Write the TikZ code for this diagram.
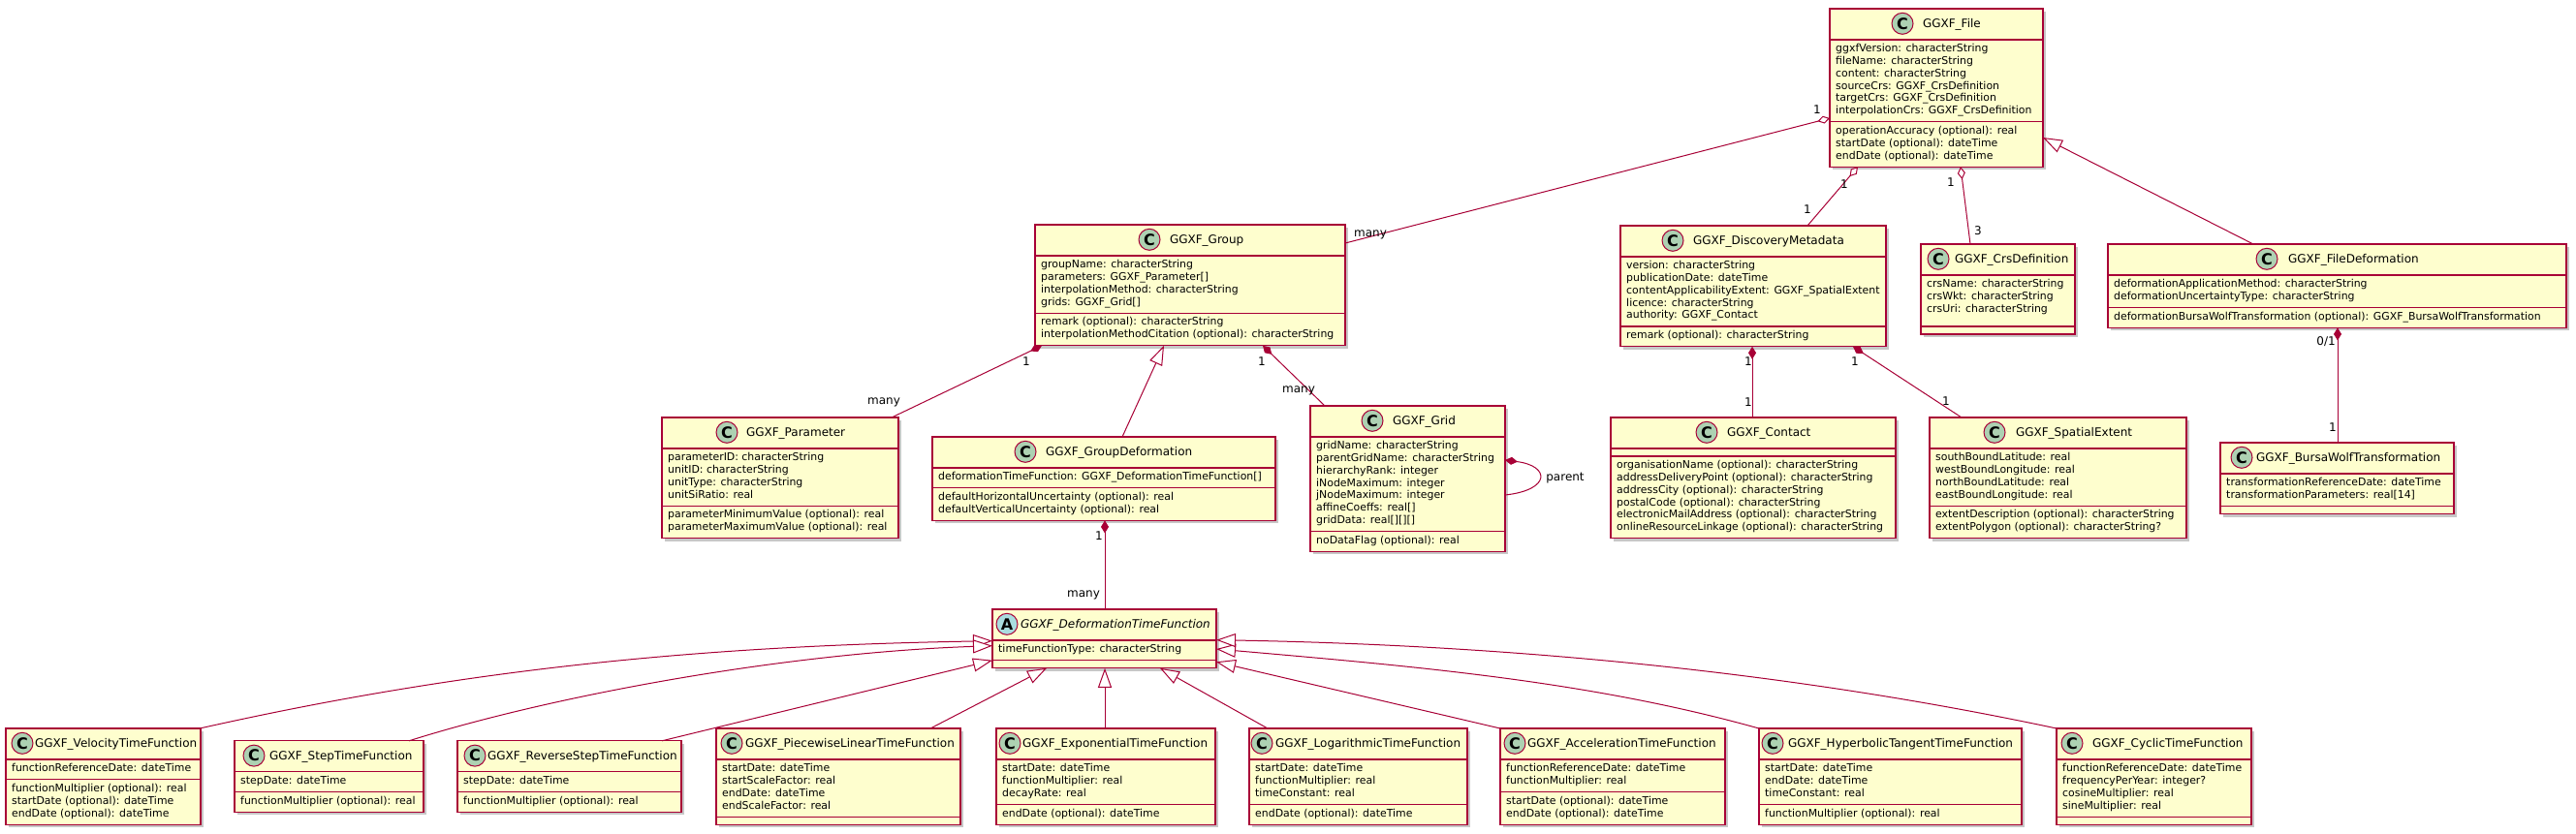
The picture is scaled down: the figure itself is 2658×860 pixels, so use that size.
\documentclass[tikz,border=0pt]{standalone}
\usepackage{fontspec}
\setmainfont{DejaVu Sans}
\usetikzlibrary{arrows.meta,shadows}
\definecolor{umlred}{HTML}{A80036}
\definecolor{umlfill}{HTML}{FEFECE}
\definecolor{iconC}{HTML}{ADD1B2}
\definecolor{iconA}{HTML}{A9DCDF}
\newcommand\memfont{\fontsize{10.9}{12.8}\selectfont}
\newcommand\namefont{\fontsize{12}{14}\selectfont}
\newcommand\lblfont{\fontsize{12}{14}\selectfont}
\newcommand\iconfont{\fontsize{16}{16}\selectfont\bfseries}
\tikzset{
 classbox/.style={draw=umlred, fill=umlfill, line width=1.2pt, inner sep=0pt, outer sep=0pt,
   drop shadow={shadow xshift=3pt, shadow yshift=-3pt, opacity=0.22, fill=black}},
 sepline/.style={draw=umlred, line width=1.2pt},
 mem/.style={inner sep=0pt, outer sep=0pt, font=\memfont, anchor=base west},
 clsname/.style={inner sep=0pt, outer sep=0pt, font=\namefont, anchor=base west},
 iconc/.style={circle, draw=umlred, line width=1pt, minimum size=22pt, inner sep=0pt, font=\iconfont},
 lbl/.style={inner sep=0pt, font=\lblfont},
 link/.style={draw=umlred, line width=1pt},
 comp/.style={link, {Diamond[length=13pt, width=8pt]}-},
 aggr/.style={link, {Diamond[open, length=13pt, width=8pt, fill=white]}-},
 gen/.style={link, {Triangle[open, length=20pt, width=14pt, fill=white]}-},
}
\newcommand\clsbox[6]{%
 \pgfmathsetmacro\hs{#4+32}%
 \pgfmathsetmacro\as{\hs+8+12.8*#5}%
 \pgfmathsetmacro\bt{\as+8+12.8*#6}%
 \pgfmathsetmacro\bw{#3-#2}%
 \pgfmathsetmacro\bh{\bt-#4}%
 \node[classbox, minimum width=\bw pt, minimum height=\bh pt, anchor=north west] (#1) at (#2,#4) {};%
 \draw[sepline] (#2,\hs) -- (#3,\hs);%
 \draw[sepline] (#2,\as) -- (#3,\as);%
}
\newcommand\clshead[7]{%
 \node[iconc, fill=#7] (#1-icon) at (#3, {#2+15.3}) {#6};%
 \node[clsname] (#1-name) at (#4, {#2+19.5}) {#5};%
}
\newcommand\mems[4]{%
 \foreach \l [count=\k from 0] in {#4} {%
   \node[mem] (#1-\k) at ({#2+6.2}, {#3+12.7+12.8*\k}) {\l};%
 }}
\begin{document}
\begin{tikzpicture}[x=1pt, y=-1pt]
\useasboundingbox (0,0) rectangle (2658,860);
\fill[white] (0,0) rectangle (2658,860);

% GGXF_File
\clsbox{file}{1888}{2108}{9}{6}{3}
\clshead{file}{9}{1963}{1984}{GGXF\_File}{C}{iconC}
\mems{filea}{1888}{\hs}{{ggxfVersion: characterString},{fileName: characterString},{content: characterString},{sourceCrs: GGXF\_CrsDefinition},{targetCrs: GGXF\_CrsDefinition},{interpolationCrs: GGXF\_CrsDefinition}}
\mems{fileo}{1888}{\as}{{operationAccuracy (optional): real},{startDate (optional): dateTime},{endDate (optional): dateTime}}

% GGXF_Group
\clsbox{group}{1068}{1388}{232}{4}{2}
\clshead{group}{232}{1186}{1207}{GGXF\_Group}{C}{iconC}
\mems{groupa}{1068}{\hs}{{groupName: characterString},{parameters: GGXF\_Parameter[]},{interpolationMethod: characterString},{grids: GGXF\_Grid[]}}
\mems{groupo}{1068}{\as}{{remark (optional): characterString},{interpolationMethodCitation (optional): characterString}}

% GGXF_Parameter
\clsbox{param}{683}{927}{431}{4}{2}
\clshead{param}{431}{750}{770}{GGXF\_Parameter}{C}{iconC}
\mems{parama}{683}{\hs}{{parameterID: characterString},{unitID: characterString},{unitType: characterString},{unitSiRatio: real}}
\mems{paramo}{683}{\as}{{parameterMinimumValue (optional): real},{parameterMaximumValue (optional): real}}

% GGXF_GroupDeformation
\clsbox{gdef}{962}{1316}{451}{1}{2}
\clshead{gdef}{451}{1058}{1079}{GGXF\_GroupDeformation}{C}{iconC}
\mems{gdefa}{962}{\hs}{{deformationTimeFunction: GGXF\_DeformationTimeFunction[]}}
\mems{gdefo}{962}{\as}{{defaultHorizontalUncertainty (optional): real},{defaultVerticalUncertainty (optional): real}}

% GGXF_Grid
\clsbox{grid}{1352}{1553}{419}{7}{1}
\clshead{grid}{419}{1416}{1437}{GGXF\_Grid}{C}{iconC}
\mems{grida}{1352}{\hs}{{gridName: characterString},{parentGridName: characterString},{hierarchyRank: integer},{iNodeMaximum: integer},{jNodeMaximum: integer},{affineCoeffs: real[]},{gridData: real[][][]}}
\mems{grido}{1352}{\as}{{noDataFlag (optional): real}}

% GGXF_DiscoveryMetadata
\clsbox{disc}{1672}{1946}{233}{5}{1}
\clshead{disc}{233}{1726}{1747}{GGXF\_DiscoveryMetadata}{C}{iconC}
\mems{disca}{1672}{\hs}{{version: characterString},{publicationDate: dateTime},{contentApplicabilityExtent: GGXF\_SpatialExtent},{licence: characterString},{authority: GGXF\_Contact}}
\mems{disco}{1672}{\as}{{remark (optional): characterString}}

% GGXF_CrsDefinition
\clsbox{crs}{1982}{2141}{252}{3.52}{0}
\clshead{crs}{252}{2000}{2017}{GGXF\_CrsDefinition}{C}{iconC}
\mems{crsa}{1982}{\hs}{{crsName: characterString},{crsWkt: characterString},{crsUri: characterString}}

% GGXF_FileDeformation
\clsbox{fdef}{2175}{2648}{252}{2}{1}
\clshead{fdef}{252}{2339}{2361}{GGXF\_FileDeformation}{C}{iconC}
\mems{fdefa}{2175}{\hs}{{deformationApplicationMethod: characterString},{deformationUncertaintyType: characterString}}
\mems{fdefo}{2175}{\as}{{deformationBursaWolfTransformation (optional): GGXF\_BursaWolfTransformation}}

% GGXF_BursaWolfTransformation
\clsbox{bursa}{2291}{2532}{457}{2}{0}
\clshead{bursa}{457}{2313}{2328}{GGXF\_BursaWolfTransformation}{C}{iconC}
\mems{bursaa}{2291}{\hs}{{transformationReferenceDate: dateTime},{transformationParameters: real[14]}}

% GGXF_Contact
\clsbox{contact}{1662}{1956}{431}{0}{6}
\clshead{contact}{431}{1761}{1782}{GGXF\_Contact}{C}{iconC}
\mems{contacto}{1662}{\as}{{organisationName (optional): characterString},{addressDeliveryPoint (optional): characterString},{addressCity (optional): characterString},{postalCode (optional): characterString},{electronicMailAddress (optional): characterString},{onlineResourceLinkage (optional): characterString}}

% GGXF_SpatialExtent
\clsbox{spatial}{1991}{2256}{431}{4}{2}
\clshead{spatial}{431}{2058}{2080}{GGXF\_SpatialExtent}{C}{iconC}
\mems{spatiala}{1991}{\hs}{{southBoundLatitude: real},{westBoundLongitude: real},{northBoundLatitude: real},{eastBoundLongitude: real}}
\mems{spatialo}{1991}{\as}{{extentDescription (optional): characterString},{extentPolygon (optional): characterString?}}

% GGXF_DeformationTimeFunction
\clsbox{dtf}{1024}{1255}{629}{1}{0}
\clshead{dtf}{629}{1039}{1053}{\itshape GGXF\_DeformationTimeFunction}{A}{iconA}
\mems{dtfa}{1024}{\hs}{{timeFunctionType: characterString}}

% bottom row
\clsbox{vel}{6}{207}{752}{1}{3}
\clshead{vel}{752}{23}{36}{GGXF\_VelocityTimeFunction}{C}{iconC}
\mems{vela}{6}{\hs}{{functionReferenceDate: dateTime}}
\mems{velo}{6}{\as}{{functionMultiplier (optional): real},{startDate (optional): dateTime},{endDate (optional): dateTime}}

\clsbox{step}{242}{437}{764.8}{1}{1}
\clshead{step}{764.8}{262}{278}{GGXF\_StepTimeFunction}{C}{iconC}
\mems{stepa}{242}{\hs}{{stepDate: dateTime}}
\mems{stepo}{242}{\as}{{functionMultiplier (optional): real}}

\clsbox{rstep}{472}{703}{764.8}{1}{1}
\clshead{rstep}{764.8}{490}{503}{GGXF\_ReverseStepTimeFunction}{C}{iconC}
\mems{rstepa}{472}{\hs}{{stepDate: dateTime}}
\mems{rstepo}{472}{\as}{{functionMultiplier (optional): real}}

\clsbox{pw}{739}{991}{752}{4}{0}
\clshead{pw}{752}{755}{769}{GGXF\_PiecewiseLinearTimeFunction}{C}{iconC}
\mems{pwa}{739}{\hs}{{startDate: dateTime},{startScaleFactor: real},{endDate: dateTime},{endScaleFactor: real}}

\clsbox{expo}{1028}{1254}{752}{3}{1}
\clshead{expo}{752}{1042}{1055}{GGXF\_ExponentialTimeFunction}{C}{iconC}
\mems{expoa}{1028}{\hs}{{startDate: dateTime},{functionMultiplier: real},{decayRate: real}}
\mems{expoo}{1028}{\as}{{endDate (optional): dateTime}}

\clsbox{loga}{1289}{1514}{752}{3}{1}
\clshead{loga}{752}{1302}{1316}{GGXF\_LogarithmicTimeFunction}{C}{iconC}
\mems{logaa}{1289}{\hs}{{startDate: dateTime},{functionMultiplier: real},{timeConstant: real}}
\mems{logao}{1289}{\as}{{endDate (optional): dateTime}}

\clsbox{acc}{1548}{1780}{752}{2}{2}
\clshead{acc}{752}{1563}{1576}{GGXF\_AccelerationTimeFunction}{C}{iconC}
\mems{acca}{1548}{\hs}{{functionReferenceDate: dateTime},{functionMultiplier: real}}
\mems{acco}{1548}{\as}{{startDate (optional): dateTime},{endDate (optional): dateTime}}

\clsbox{hyp}{1815}{2086}{752}{3}{1}
\clshead{hyp}{752}{1829}{1845}{GGXF\_HyperbolicTangentTimeFunction}{C}{iconC}
\mems{hypa}{1815}{\hs}{{startDate: dateTime},{endDate: dateTime},{timeConstant: real}}
\mems{hypo}{1815}{\as}{{functionMultiplier (optional): real}}

\clsbox{cyc}{2122}{2323}{752}{4}{0}
\clshead{cyc}{752}{2138}{2159}{GGXF\_CyclicTimeFunction}{C}{iconC}
\mems{cyca}{2122}{\hs}{{functionReferenceDate: dateTime},{frequencyPerYear: integer?},{cosineMultiplier: real},{sineMultiplier: real}}

% ---------- connector end points
\coordinate (fg1) at (1888,122);   \coordinate (fg2) at (1388,251);
\coordinate (fd1) at (1917,172.2); \coordinate (fd2) at (1865,233);
\coordinate (fc1) at (2023,172.2); \coordinate (fc2) at (2033,252);
\coordinate (ff1) at (2108,142);   \coordinate (ff2) at (2325,252);
\coordinate (gp1) at (1075,356.8); \coordinate (gp2) at (920,431);
\coordinate (gg1) at (1201,356.8); \coordinate (gg2) at (1158,451);
\coordinate (gr1) at (1303,356.8); \coordinate (gr2) at (1367,419);
\coordinate (sl1) at (1553,475);   \coordinate (sl2) at (1553,511);
\coordinate (gd1) at (1140,537.4); \coordinate (gd2) at (1140,629);
\coordinate (dc1) at (1808,357.8); \coordinate (dc2) at (1808,431);
\coordinate (ds1) at (1912,357.8); \coordinate (ds2) at (2024,431);
\coordinate (fb1) at (2412,338.4); \coordinate (fb2) at (2412,457);
\coordinate (tv1) at (1024,661.7); \coordinate (tv2) at (206,752);
\coordinate (ts1) at (1024,666.7); \coordinate (ts2) at (422,764.8);
\coordinate (tr1) at (1024,681.7); \coordinate (tr2) at (683,764.8);
\coordinate (tp1) at (1080,689.8); \coordinate (tp2) at (960,752);
\coordinate (te1) at (1140,689.8); \coordinate (te2) at (1140,752);
\coordinate (tl1) at (1197,689.8); \coordinate (tl2) at (1308,752);
\coordinate (ta1) at (1255,683.3); \coordinate (ta2) at (1548,752);
\coordinate (th1) at (1255,670);   \coordinate (th2) at (1815,752);
\coordinate (tc1) at (1255,660.7); \coordinate (tc2) at (2122,752);

\draw[aggr] (fg1) -- (fg2);
\draw[aggr] (fd1) -- (fd2);
\draw[aggr] (fc1) -- (fc2);
\draw[gen]  (ff1) -- (ff2);
\draw[comp] (gp1) -- (gp2);
\draw[gen]  (gg1) -- (gg2);
\draw[comp] (gr1) -- (gr2);
\draw[comp] (sl1) .. controls (1600,481) and (1600,506) .. (sl2);
\draw[comp] (gd1) -- (gd2);
\draw[comp] (dc1) -- (dc2);
\draw[comp] (ds1) -- (ds2);
\draw[comp] (fb1) -- (fb2);
\draw[gen] (tv1) .. controls (700,667) and (460,695) .. (tv2);
\draw[gen] (ts1) .. controls (810,674) and (570,718) .. (ts2);
\draw[gen] (tr1) -- (tr2);
\draw[gen] (tp1) -- (tp2);
\draw[gen] (te1) -- (te2);
\draw[gen] (tl1) -- (tl2);
\draw[gen] (ta1) -- (ta2);
\draw[gen] (th1) .. controls (1460,688) and (1640,703) .. (th2);
\draw[gen] (tc1) .. controls (1560,666) and (1850,694) .. (tc2);

% ---------- labels
\node[lbl] (l1) at (1875,113) {1};
\node[lbl] (l2) at (1414,242) {many};
\node[lbl] (l3) at (1903,190) {1};
\node[lbl] (l4) at (1865,216) {1};
\node[lbl] (l5) at (2013,188) {1};
\node[lbl] (l6) at (2041,238) {3};
\node[lbl] (l7) at (1059,373) {1};
\node[lbl] (l8) at (912,415) {many};
\node[lbl] (l9) at (1302,373) {1};
\node[lbl] (l10) at (1340,403) {many};
\node[lbl] (l11) at (1615,494) {parent};
\node[lbl] (l12) at (1134,553) {1};
\node[lbl] (l13) at (1118,614) {many};
\node[lbl] (l14) at (1804,373) {1};
\node[lbl] (l15) at (1804,415) {1};
\node[lbl] (l16) at (1914,373) {1};
\node[lbl] (l17) at (2008,414) {1};
\node[lbl] (l18) at (2400,353) {0/1};
\node[lbl] (l19) at (2407,441) {1};
\end{tikzpicture}
\end{document}
